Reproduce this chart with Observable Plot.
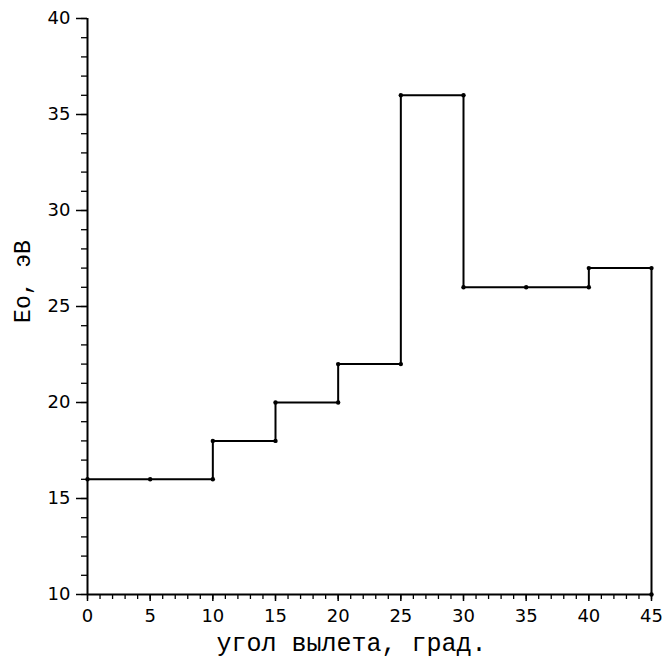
<!DOCTYPE html>
<html><head><meta charset="utf-8">
<script src="https://cdn.jsdelivr.net/npm/d3@7"></script>
<script src="https://cdn.jsdelivr.net/npm/@observablehq/plot@0.6"></script>
<style>body{margin:0;background:#fff}</style>
</head><body><div id="chart"></div>
<script>
// step segments: angle ranges and energy
const segStart = [0, 10, 15, 20, 25, 30, 40];
const segEnd   = [10, 15, 20, 25, 30, 40, 45];
const energy   = [16, 18, 20, 22, 36, 26, 27];
// measured markers
const markerX = [0, 5, 10, 10, 15, 15, 20, 20, 25, 25, 30, 30, 35, 40, 40, 45, 45];
const markerY = [16, 16, 16, 18, 18, 20, 20, 22, 22, 36, 36, 26, 26, 26, 27, 27, 10];
// ticks
const xMajor = [0, 5, 10, 15, 20, 25, 30, 35, 40, 45];
const xMinor = d3.range(0, 46, 1);
const yMajor = [10, 15, 20, 25, 30, 35, 40];
const yMinor = d3.range(10, 41, 1);
const xLabel = "угол вылета, град.";
const yLabel = "Eo, эВ";

const stepPts = segStart.map((s, i) => ({x: s, y: energy[i]}));
stepPts.push({x: segEnd[segEnd.length - 1], y: energy[energy.length - 1]});
const markers = markerX.map((x, i) => ({x, y: markerY[i]}));

const plot = Plot.plot({
  width: 667,
  height: 670,
  marginLeft: 87,
  marginRight: 16,
  marginTop: 18,
  marginBottom: 76,
  style: {fontFamily: "DejaVu Sans", fontSize: "18px", background: "#fff", color: "#000"},
  x: {domain: [0, 45], label: null},
  y: {domain: [10, 40], label: null},
  marks: [
    Plot.axisX(xMinor, {tickSize: 5, tickFormat: () => "", strokeWidth: 1.3, label: null}),
    Plot.axisX(xMajor, {tickSize: 7, tickPadding: 8, strokeWidth: 1.5, fontSize: 18, fill: "#000", label: null}),
    Plot.axisY(yMinor, {tickSize: 6, tickFormat: () => "", strokeWidth: 1.3, label: null}),
    Plot.axisY(yMajor, {tickSize: 11, tickPadding: 6, strokeWidth: 1.5, fontSize: 18, fill: "#000", label: null}),
    Plot.ruleX([0], {stroke: "#000", strokeWidth: 2}),
    Plot.ruleY([10], {stroke: "#000", strokeWidth: 2}),
    Plot.line(stepPts, {x: "x", y: "y", curve: "step-after", stroke: "#000", strokeWidth: 2}),
    Plot.ruleX([segEnd[segEnd.length - 1]], {y1: 10, y2: energy[energy.length - 1], stroke: "#000", strokeWidth: 2}),
    Plot.dot(markers, {x: "x", y: "y", r: 2.2, fill: "#000", stroke: null}),
    Plot.text([xLabel], {text: d => d, frameAnchor: "bottom", dy: 56, dx: -18,
      fontFamily: "Liberation Mono", fontSize: 25, fill: "#000", textAnchor: "middle"}),
    Plot.text([yLabel], {text: d => d, frameAnchor: "left", dx: -65, dy: -25, rotate: -90,
      fontFamily: "Liberation Mono", fontSize: 23, fill: "#000", textAnchor: "middle"})
  ]
});
document.getElementById("chart").appendChild(plot);
</script>
</body></html>
